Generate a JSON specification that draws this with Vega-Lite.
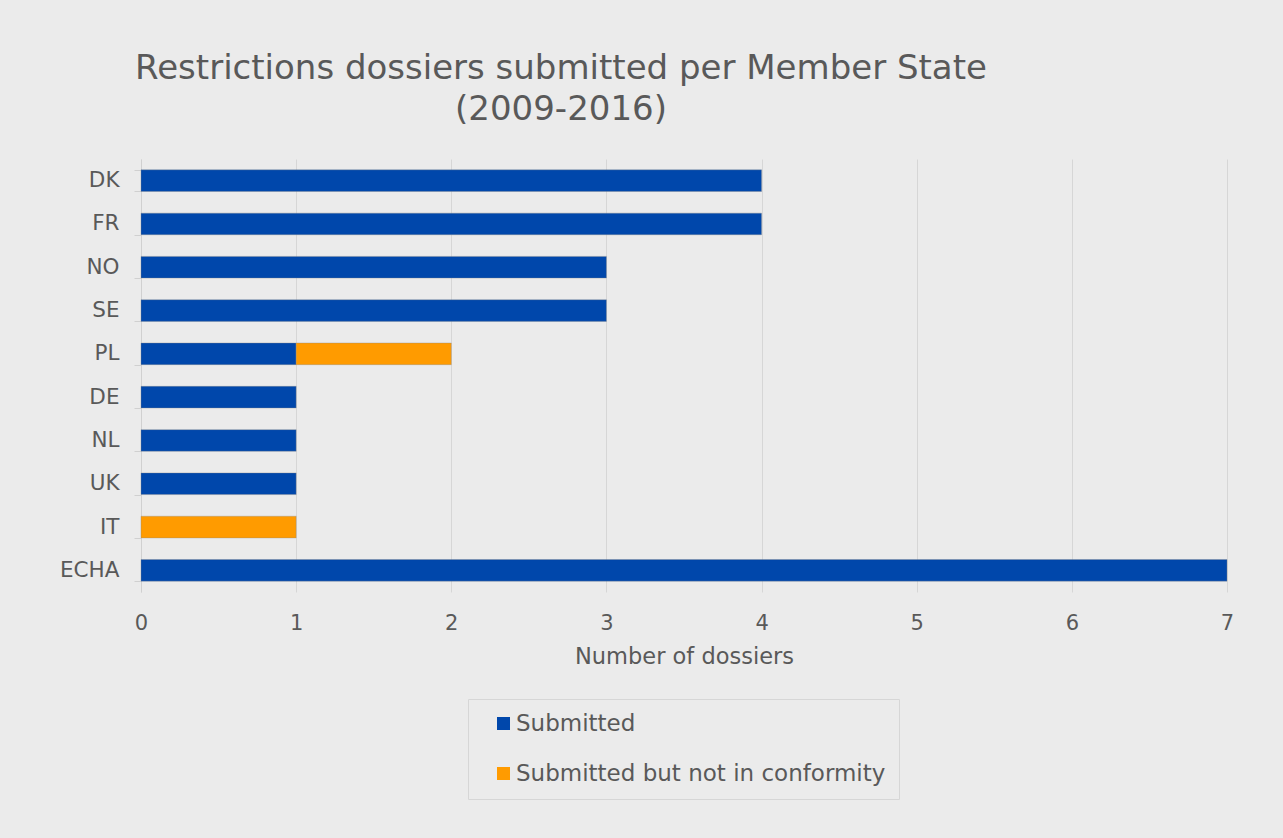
{
  "$schema": "https://vega.github.io/schema/vega-lite/v6.json",
  "width": 1086,
  "height": 433,
  "autosize": "none",
  "padding": {"left": 141, "top": 159, "right": 56, "bottom": 246},
  "background": "#ebebeb",
  "title": {
    "text": ["Restrictions dossiers submitted per Member State", "(2009-2016)"],
    "fontSize": 34,
    "font": "DejaVu Sans",
    "fontWeight": "normal",
    "color": "#595959",
    "anchor": "middle",
    "frame": "group",
    "dx": -123,
    "offset": 21,
    "lineHeight": 41
  },
  "data": {
    "values": [
      {"country": "DK", "status": "Submitted", "value": 4},
      {"country": "FR", "status": "Submitted", "value": 4},
      {"country": "NO", "status": "Submitted", "value": 3},
      {"country": "SE", "status": "Submitted", "value": 3},
      {"country": "PL", "status": "Submitted", "value": 1},
      {"country": "PL", "status": "Submitted but not in conformity", "value": 1},
      {"country": "DE", "status": "Submitted", "value": 1},
      {"country": "NL", "status": "Submitted", "value": 1},
      {"country": "UK", "status": "Submitted", "value": 1},
      {"country": "IT", "status": "Submitted but not in conformity", "value": 1},
      {"country": "ECHA", "status": "Submitted", "value": 7}
    ]
  },
  "mark": {"type": "bar", "stroke": "#8a8a8a", "strokeWidth": 0.6, "strokeOpacity": 0.6},
  "encoding": {
    "y": {
      "field": "country",
      "type": "nominal",
      "sort": ["DK", "FR", "NO", "SE", "PL", "DE", "NL", "UK", "IT", "ECHA"],
      "scale": {"paddingInner": 0.5, "paddingOuter": 0.25},
      "axis": {
        "title": null,
        "tickBand": "extent",
        "ticks": true,
        "tickSize": 7,
        "tickColor": "#d0d0d0",
        "domainColor": "#d0d0d0",
        "labelPadding": 15,
        "labelFontSize": 21.5,
        "labelColor": "#595959",
        "labelFont": "DejaVu Sans",
        "grid": false
      }
    },
    "x": {
      "field": "value",
      "type": "quantitative",
      "stack": "zero",
      "scale": {"domain": [0, 7], "nice": false},
      "axis": {
        "values": [0, 1, 2, 3, 4, 5, 6, 7],
        "title": "Number of dossiers",
        "titleFontSize": 22.5,
        "titleFontWeight": "normal",
        "titleColor": "#595959",
        "titleFont": "DejaVu Sans",
        "titlePadding": 12,
        "labelFontSize": 21,
        "labelColor": "#595959",
        "labelFont": "DejaVu Sans",
        "labelPadding": 20,
        "labelFlush": false,
        "domain": false,
        "ticks": false,
        "grid": true,
        "gridColor": "#d6d6d6",
        "gridWidth": 1
      }
    },
    "color": {
      "field": "status",
      "type": "nominal",
      "scale": {
        "domain": ["Submitted", "Submitted but not in conformity"],
        "range": ["#0047ab", "#ff9b00"]
      },
      "legend": {
        "title": null,
        "orient": "none",
        "legendX": 327,
        "legendY": 540,
        "direction": "vertical",
        "strokeColor": "#d6d6d6",
        "padding": 13,
        "symbolOffset": 11,
        "symbolType": "square",
        "symbolSize": 169,
        "symbolStrokeWidth": 0,
        "labelFontSize": 23,
        "labelLimit": 600,
        "labelColor": "#595959",
        "labelFont": "DejaVu Sans",
        "labelOffset": 1,
        "rowPadding": 26
      }
    }
  },
  "config": {
    "view": {"stroke": null},
    "font": "DejaVu Sans"
  }
}
